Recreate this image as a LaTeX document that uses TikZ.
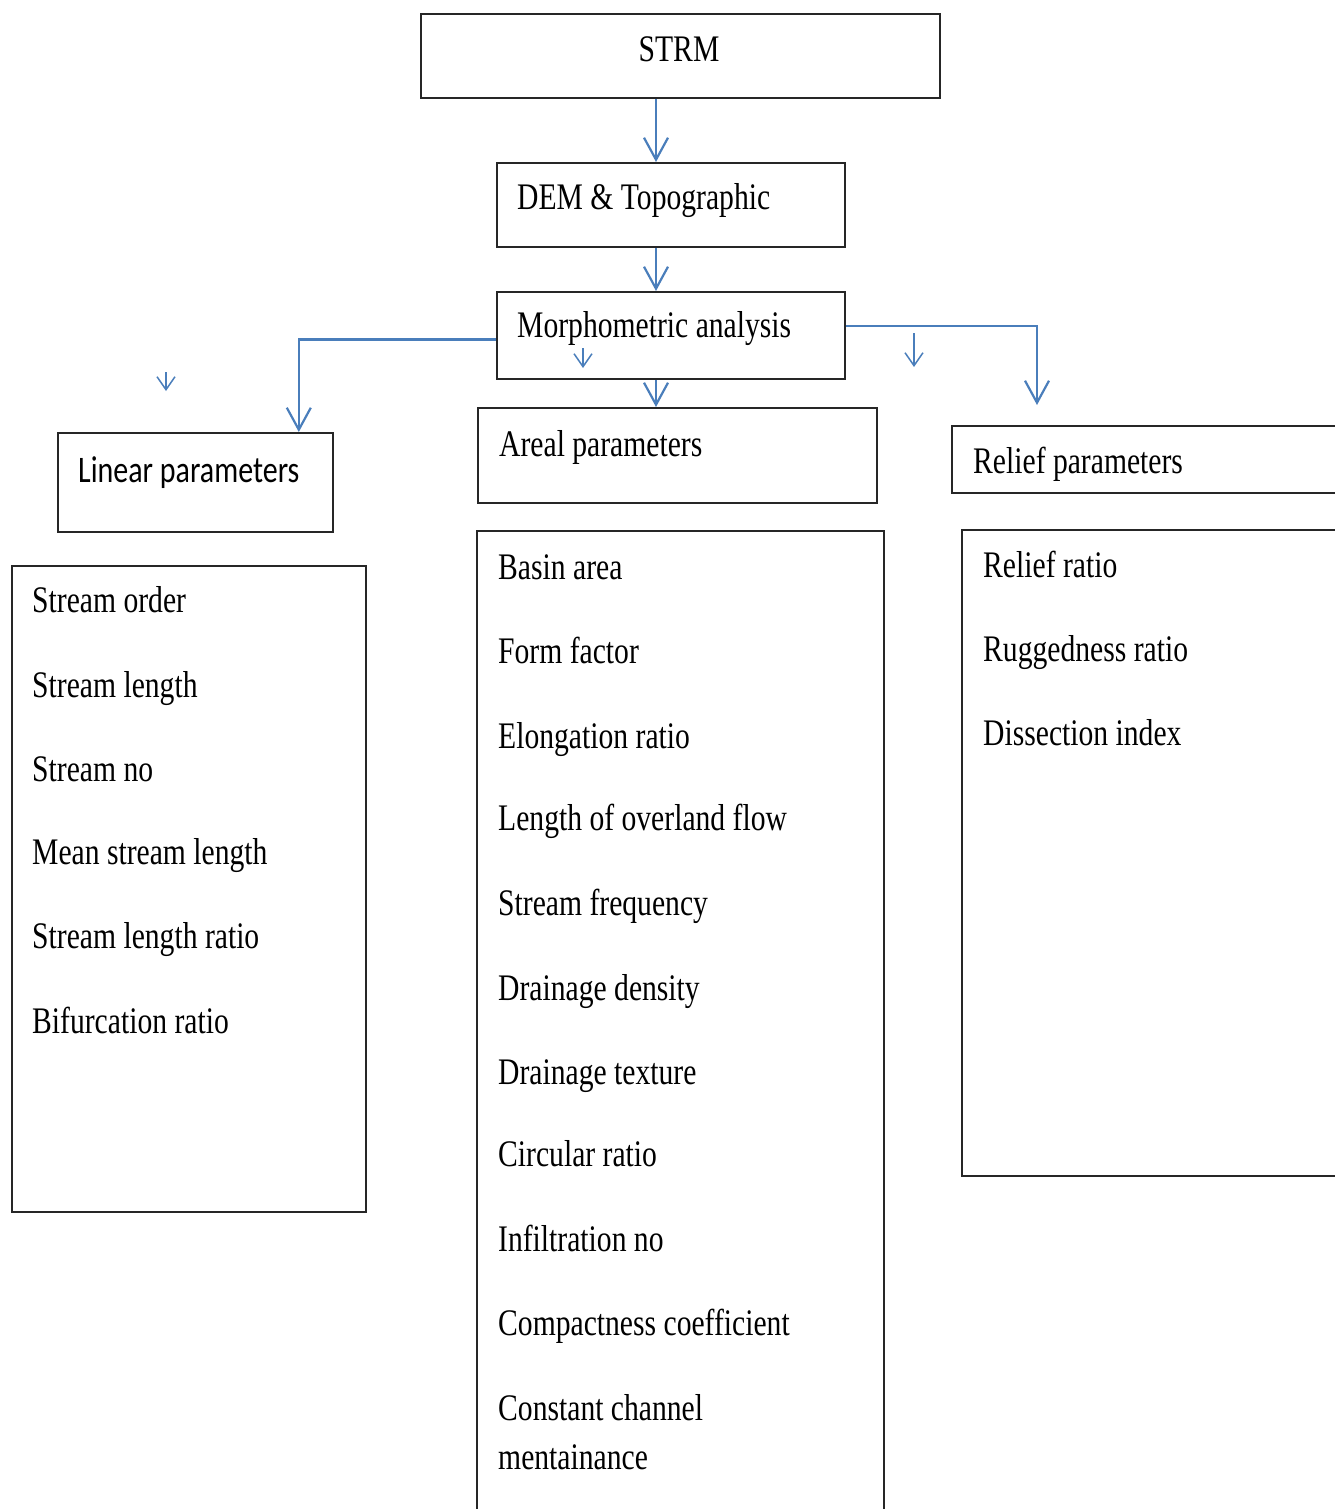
\documentclass[tikz,border=0pt]{standalone}
\usepackage{fontspec}
\setmainfont{Liberation Serif}[FakeStretch=0.79]
\newfontfamily\calibfont{Carlito}[FakeStretch=0.8]
\usetikzlibrary{arrows.meta}

\definecolor{linkblue}{HTML}{4A7EBB}
\tikzset{
  frame/.style={draw=black!85, line width=1.8pt},
  box/.style={frame, anchor=north west, inner sep=0pt},
  txt/.style={anchor=base west, inner sep=0pt, align=left},
  link/.style={draw=linkblue, line width=2.2pt, -{Straight Barb[length=22pt,width=24pt]}},
  stray/.style={draw=linkblue, line width=1.5pt, -{Straight Barb[length=13pt,width=18pt]}}
}

\begin{document}
\begin{tikzpicture}[x=1pt, y=-1pt, font=\fontsize{37.5}{49}\selectfont]
  \useasboundingbox (0,0) rectangle (1335,1509);
  \node[box, minimum width=519, minimum height=84] (strm)     at (420, 13) {};
  \node[box, minimum width=348, minimum height=84] (dem)      at (496,162) {};
  \node[box, minimum width=348, minimum height=87] (morph)    at (496,291) {};
  \node[box, minimum width=275, minimum height=99] (lin)      at ( 57,432) {};
  \node[box, minimum width=399, minimum height=95] (areal)    at (477,407) {};
  \node[box, minimum width=384, minimum height=67] (rel)      at (951,425) {};
  \node[box, minimum width=354, minimum height=646] (linlist) at ( 11,565) {};
  \node[box, minimum width=374, minimum height=646] (rellist) at (961,529) {};
  \draw[frame] (477,1515) |- (884,531) -- (884,1515);

  \node[anchor=base, inner sep=0pt] (strmtxt) at (679, 62) {STRM};
  \node[txt] (demtxt)   at (517,209) {DEM \& Topographic};
  \node[txt] (morphtxt) at (517,337) {Morphometric analysis};
  \node[txt] (lintxt)   at ( 78,482) {\calibfont Linear parameters};
  \node[txt] (arealtxt) at (499,456) {Areal parameters};
  \node[txt] (reltxt)   at (973,473) {Relief parameters};

  \node[txt] (lin1) at (32, 612) {Stream order};
  \node[txt] (lin2) at (32, 697) {Stream length};
  \node[txt] (lin3) at (32, 781) {Stream no};
  \node[txt] (lin4) at (32, 864) {Mean stream length};
  \node[txt] (lin5) at (32, 948) {Stream length ratio};
  \node[txt] (lin6) at (32,1033) {Bifurcation ratio};

  \node[txt] (ar1)  at (498, 579) {Basin area};
  \node[txt] (ar2)  at (498, 663) {Form factor};
  \node[txt] (ar3)  at (498, 748) {Elongation ratio};
  \node[txt] (ar4)  at (498, 830) {Length of overland flow};
  \node[txt] (ar5)  at (498, 915) {Stream frequency};
  \node[txt] (ar6)  at (498,1000) {Drainage density};
  \node[txt] (ar7)  at (498,1084) {Drainage texture};
  \node[txt] (ar8)  at (498,1166) {Circular ratio};
  \node[txt] (ar9)  at (498,1251) {Infiltration no};
  \node[txt] (ar10) at (498,1335) {Compactness coefficient};
  \node[txt] (ar11) at (498,1469) {Constant channel\\mentainance};

  \node[txt] (rel1) at (983,577) {Relief ratio};
  \node[txt] (rel2) at (983,661) {Ruggedness ratio};
  \node[txt] (rel3) at (983,745) {Dissection index};

  \coordinate (axis) at (656,0);
  \draw[link] (axis |- strm.south)  -- (axis |- dem.north);
  \draw[link] (axis |- dem.south)   -- (axis |- morph.north);
  \draw[link] (axis |- morph.south) -- (axis |- areal.north);
  \draw[link] ([yshift=-4pt]morph.west) -| ([xshift=-35pt]lin.north east);
  \draw[link] ([yshift=9.5pt]morph.east) -| ([xshift=86pt,yshift=20pt]rel.north west);

  \coordinate (s1a) at (166,372);
  \coordinate (s1b) at (166,391);
  \coordinate (s2a) at (583,348);
  \coordinate (s2b) at (583,368);
  \coordinate (s3a) at (914,333);
  \coordinate (s3b) at (914,367);
  \draw[stray] (s1a) -- (s1b);
  \draw[stray] (s2a) -- (s2b);
  \draw[stray] (s3a) -- (s3b);
\end{tikzpicture}
\end{document}
